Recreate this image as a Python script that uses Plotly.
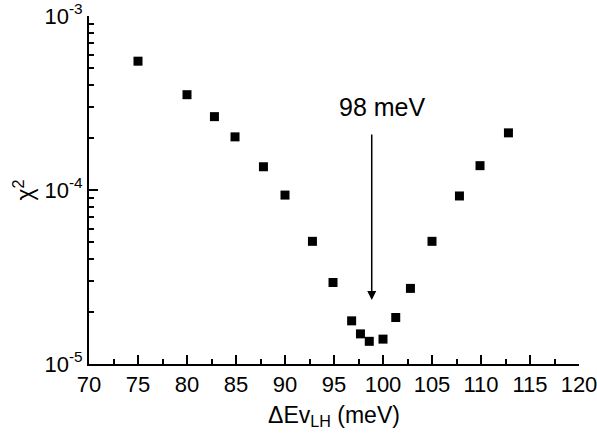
import math
import plotly.graph_objects as go

# chi-square fit quality versus light-hole valence band offset
delta_ev = [75, 80, 82.8, 84.9, 87.8, 90, 92.8, 94.9, 96.8, 97.7, 98.6, 100,
            101.3, 102.8, 105, 107.8, 109.9, 112.8]
chi2 = [5.5e-4, 3.53e-4, 2.64e-4, 2.02e-4, 1.36e-4, 9.35e-5, 5.07e-5, 2.94e-5,
        1.77e-5, 1.49e-5, 1.35e-5, 1.39e-5, 1.85e-5, 2.72e-5, 5.07e-5, 9.24e-5,
        1.38e-4, 2.13e-4]

y_tickvals = [1e-5, 1e-4, 1e-3]
y_ticktext = ['10<sup>-5</sup>', '10<sup>-4</sup>', '10<sup>-3</sup>']

arrow_x = 98.85
arrow_tip = 2.33e-5
label_text = '98 meV'
label_x = 99.9
label_y = 3.0e-4

FONT = 'Liberation Sans'

fig = go.Figure(go.Scatter(x=delta_ev, y=chi2, mode='markers',
                           marker=dict(symbol='square', size=9, color='black')))

fig.update_xaxes(range=[70, 120], dtick=5, showline=True, linewidth=2,
                 linecolor='black', ticks='inside', ticklen=9, tickwidth=2,
                 tickcolor='black', showgrid=False,
                 minor=dict(ticks='inside', dtick=2.5, ticklen=5,
                            tickcolor='black'))
fig.update_yaxes(type='log', range=[-5, -3], tickvals=y_tickvals,
                 ticktext=y_ticktext, showline=True, linewidth=2,
                 linecolor='black', ticks='inside', ticklen=9, tickwidth=2,
                 tickcolor='black', showgrid=False,
                 minor=dict(ticks='inside', dtick='D1', ticklen=5,
                            tickcolor='black'))

# arrow pointing down at the minimum
fig.add_annotation(x=arrow_x, y=math.log10(arrow_tip), ax=0, ay=-167,
                   text='', showarrow=True, arrowhead=2, arrowsize=1.2,
                   arrowwidth=1.5, arrowcolor='black')
fig.add_annotation(x=label_x, y=math.log10(label_y), text=label_text,
                   showarrow=False, font=dict(size=25))

fig.update_layout(template='none', width=597, height=443, showlegend=False,
                  font=dict(family=FONT, size=22, color='black'),
                  margin=dict(l=89, r=18, t=16, b=79))
fig.update_xaxes(automargin=False, ticklabeloverflow='allow',
                 title=dict(text='ΔEv<sub>LH</sub> (meV)', standoff=10,
                            font=dict(size=23)))
fig.update_yaxes(automargin=False,
                 title=dict(text='χ<sup>2</sup>', standoff=4,
                            font=dict(size=23)))

fig.write_html("out.html", config={'displayModeBar': False},
               post_script="document.body.style.margin='0';")
